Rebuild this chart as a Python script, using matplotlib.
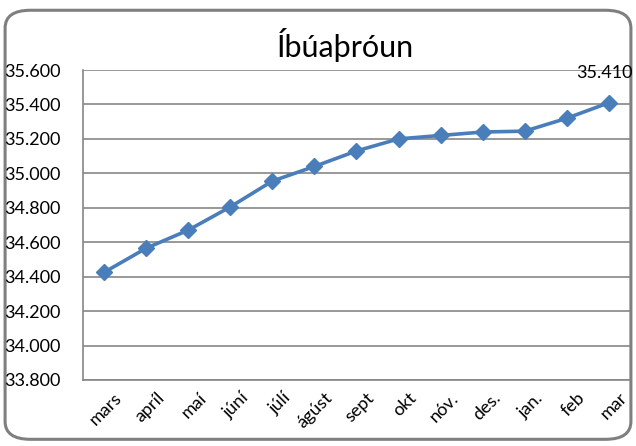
import matplotlib
matplotlib.use("Agg")
import matplotlib.pyplot as plt
from matplotlib.patches import FancyBboxPatch
from matplotlib.ticker import FuncFormatter
from matplotlib.transforms import ScaledTranslation

months = ["mars", "apríl", "maí", "júní", "júlí", "ágúst", "sept", "okt",
          "nóv.", "des.", "jan.", "feb", "mar"]
population = [34425, 34565, 34670, 34805, 34955, 35040, 35130, 35200,
              35220, 35240, 35245, 35320, 35410]
y_ticks = [33800, 34000, 34200, 34400, 34600, 34800, 35000, 35200, 35400, 35600]

plt.rcParams["font.family"] = ["Lato", "DejaVu Sans"]

fig = plt.figure(figsize=(6.36, 4.46), dpi=100)
# rounded chart frame
frame = FancyBboxPatch((0.008, 0.015), 0.984, 0.962,
                       boxstyle="round,pad=0,rounding_size=0.04",
                       transform=fig.transFigure, facecolor="white",
                       edgecolor="#7f7f7f", linewidth=2.2, zorder=-1)
fig.patches.append(frame)

ax = fig.add_axes([0.1305, 0.148, 0.86, 0.695])
ax.set_facecolor("none")
x = range(len(months))
ax.plot(x, population, color="#4a7ebb", linewidth=2.6, marker="D",
        markersize=8, zorder=3)

ax.set_xlim(-0.5, len(months) - 0.5)
ax.set_ylim(y_ticks[0], y_ticks[-1])
ax.set_yticks(y_ticks)
ax.yaxis.set_major_formatter(FuncFormatter(lambda v, p: f"{v/1000:.3f}"))
ax.grid(axis="y", color="#868686", linewidth=1.2)
ax.set_axisbelow(True)

for s in ["top", "right"]:
    ax.spines[s].set_visible(False)
for s in ["left", "bottom"]:
    ax.spines[s].set_color("#868686")
    ax.spines[s].set_linewidth(1.2)

ax.tick_params(axis="y", length=0, pad=57, labelsize=13)
for lbl in ax.get_yticklabels():
    lbl.set_ha("left")
ax.set_xticks(list(x))
ax.set_xticklabels(months, rotation=45, ha="right", rotation_mode="anchor")
ax.tick_params(axis="x", length=0, pad=7, labelsize=13)
shift = ScaledTranslation(10 / 100, 0, fig.dpi_scale_trans)
for lbl in ax.get_xticklabels():
    lbl.set_transform(lbl.get_transform() + shift)

ax.annotate(f"{population[-1]/1000:.3f}", (x[-1], population[-1]),
            xytext=(-3, 16), textcoords="offset points", ha="center",
            va="bottom", fontsize=13)

fig.text(0.543, 0.9, "Íbúaþróun", ha="center", va="center", fontsize=22)

fig.savefig("out.png", dpi=100)
